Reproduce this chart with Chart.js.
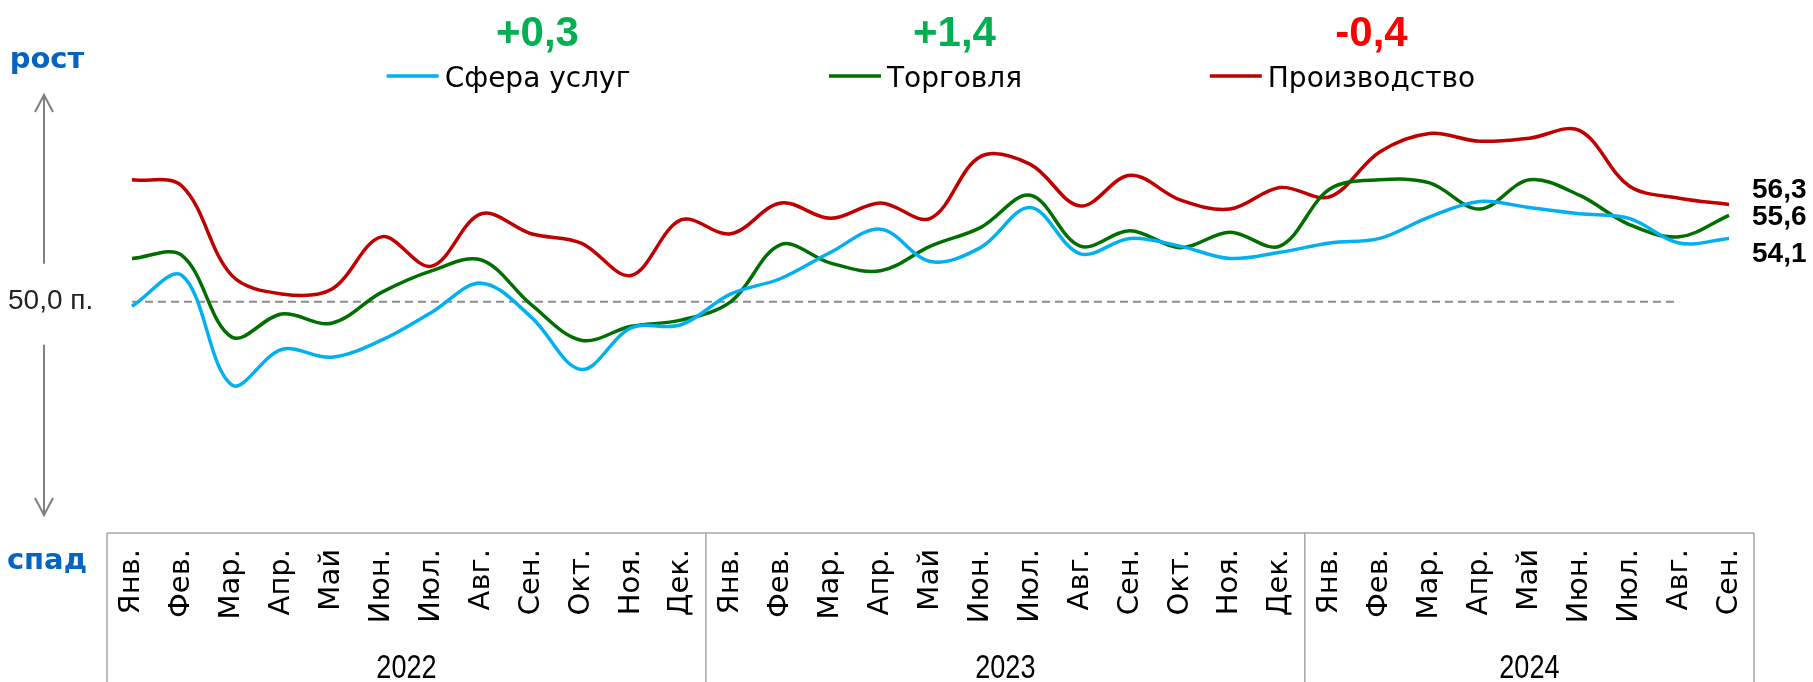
<!DOCTYPE html>
<html lang="ru">
<head>
<meta charset="utf-8">
<script src="https://cdn.jsdelivr.net/npm/chart.js@4.4.1/dist/chart.umd.min.js"></script>
<style>
    html, body { margin: 0; padding: 0; background: #fff; }
    #wrap { width: 1813px; height: 682px; position: relative; }
</style>
</head>
<body>
<div id="wrap"><canvas id="grafico"></canvas></div>
<script>
// ---------------- DATA ----------------
const months = [
    "Янв.", "Фев.", "Мар.", "Апр.", "Май", "Июн.", "Июл.", "Авг.", "Сен.", "Окт.", "Ноя.", "Дек.",
    "Янв.", "Фев.", "Мар.", "Апр.", "Май", "Июн.", "Июл.", "Авг.", "Сен.", "Окт.", "Ноя.", "Дек.",
    "Янв.", "Фев.", "Мар.", "Апр.", "Май", "Июн.", "Июл.", "Авг.", "Сен."
];
const years = ["2022", "2023", "2024"];
const monthsPerYear = [12, 12, 9];

const seriesNames = ["Сфера услуг", "Торговля", "Производство"];
const changes = ["+0,3", "+1,4", "-0,4"];

const services = [
    49.7, 51.7, 44.6, 46.9, 46.4, 47.5, 49.3, 51.2, 49.0, 45.6, 48.3, 48.5,
    50.5, 51.5, 53.2, 54.7, 52.6, 53.5, 56.1, 53.1, 54.1, 53.6, 52.8, 53.2,
    53.8, 54.1, 55.5, 56.5, 56.1, 55.7, 55.4, 53.8, 54.1
];
const trade = [
    52.8, 53.0, 47.7, 49.2, 48.6, 50.6, 52.0, 52.7, 49.8, 47.5, 48.4, 48.8,
    50.0, 53.7, 52.5, 52.0, 53.6, 54.8, 56.9, 53.6, 54.6, 53.5, 54.5, 53.6,
    57.3, 57.9, 57.7, 56.0, 57.9, 56.9, 55.0, 54.2, 55.6
];
const manufacturing = [
    57.9, 57.5, 51.7, 50.5, 50.8, 54.2, 52.3, 55.7, 54.4, 53.8, 51.7, 55.3,
    54.4, 56.4, 55.4, 56.4, 55.4, 59.4, 58.9, 56.2, 58.2, 56.6, 56.0, 57.4,
    56.8, 59.7, 60.9, 60.4, 60.6, 61.1, 57.5, 56.7, 56.3
];
const baseline = [
    50, 50, 50, 50, 50, 50, 50, 50, 50, 50, 50, 50,
    50, 50, 50, 50, 50, 50, 50, 50, 50, 50, 50, 50,
    50, 50, 50, 50, 50, 50, 50, 50, null
];

const colors = ["#00B0F0", "#006E00", "#C00000"];
const endLabelShift = [16, 2, -14];

const TEXT_FONT = '"Century Gothic", "DejaVu Sans", sans-serif';
const NUM_FONT = '"Liberation Sans", Arial, sans-serif';

// ---------------- DECOR ----------------
const decor = {
    id: "decor",
    afterDraw(chart) {
        const ctx = chart.ctx;
        const area = chart.chartArea;
        const x = chart.scales.x;
        const y = chart.scales.y;
        ctx.save();

        // legend with changes above
        const legendCenter = (area.left + area.right) / 2 + 24;
        seriesNames.forEach((name, i) => {
            const cx = legendCenter + (i - 1) * 417;
            ctx.font = "28px " + TEXT_FONT;
            const w = ctx.measureText(name).width;
            const left = cx - w / 2;
            ctx.strokeStyle = colors[i];
            ctx.lineWidth = 3.5;
            ctx.beginPath();
            ctx.moveTo(left - 58, 76);
            ctx.lineTo(left - 6, 76);
            ctx.stroke();
            ctx.fillStyle = "#000";
            ctx.textAlign = "left";
            ctx.textBaseline = "alphabetic";
            ctx.fillText(name, left, 87);

            ctx.font = "bold 42px " + NUM_FONT;
            ctx.textAlign = "center";
            ctx.fillStyle = changes[i].startsWith("-") ? "#FF0000" : "#00B050";
            ctx.fillText(changes[i], cx, 46);
        });

        // end values
        const last = months.length - 1;
        [services, trade, manufacturing].forEach((serie, i) => {
            const v = serie[last];
            ctx.font = "bold 28px " + NUM_FONT;
            ctx.fillStyle = "#000";
            ctx.textAlign = "left";
            ctx.textBaseline = "middle";
            ctx.fillText(v.toFixed(1).replace(".", ","), x.getPixelForValue(last) + 23,
                y.getPixelForValue(v) + endLabelShift[i]);
        });

        // left side: arrows and labels
        const y50 = y.getPixelForValue(50);
        ctx.strokeStyle = "#808080";
        ctx.lineWidth = 2;
        ctx.beginPath();
        ctx.moveTo(44, y50 - 38); ctx.lineTo(44, 95);
        ctx.moveTo(35, 112); ctx.lineTo(44, 95); ctx.lineTo(53, 112);
        ctx.moveTo(44, y50 + 43); ctx.lineTo(44, 515);
        ctx.moveTo(35, 498); ctx.lineTo(44, 515); ctx.lineTo(53, 498);
        ctx.stroke();

        ctx.fillStyle = "#222";
        ctx.font = "28px " + NUM_FONT;
        ctx.textAlign = "left";
        ctx.textBaseline = "middle";
        ctx.fillText("50,0 п.", 8, y50);

        ctx.fillStyle = "#0563C1";
        ctx.font = "bold 29px " + TEXT_FONT;
        ctx.textAlign = "center";
        ctx.textBaseline = "alphabetic";
        ctx.fillText("рост", 47, 68);
        ctx.fillText("спад", 47, 569);

        // category box
        const edges = [area.left];
        let n = 0;
        monthsPerYear.forEach(count => {
            n += count;
            edges.push(n < months.length
                ? (x.getPixelForValue(n - 1) + x.getPixelForValue(n)) / 2
                : area.right);
        });
        ctx.strokeStyle = "#A6A6A6";
        ctx.lineWidth = 1.5;
        ctx.beginPath();
        ctx.moveTo(area.left, area.bottom); ctx.lineTo(area.right, area.bottom);
        edges.forEach(e => { ctx.moveTo(e, area.bottom); ctx.lineTo(e, chart.height); });
        ctx.stroke();

        ctx.fillStyle = "#000";
        ctx.font = "29px " + TEXT_FONT;
        ctx.textAlign = "right";
        ctx.textBaseline = "middle";
        months.forEach((m, i) => {
            ctx.save();
            ctx.translate(x.getPixelForValue(i), area.bottom + 16);
            ctx.rotate(-Math.PI / 2);
            ctx.fillText(m, 0, 0);
            ctx.restore();
        });

        // narrow-looking year labels
        ctx.font = '33px "Liberation Sans", sans-serif';
        ctx.textAlign = "center";
        ctx.textBaseline = "alphabetic";
        years.forEach((yr, i) => {
            ctx.save();
            ctx.translate((edges[i] + edges[i + 1]) / 2, 678);
            ctx.scale(0.82, 1);
            ctx.fillText(yr, 0, 0);
            ctx.restore();
        });

        ctx.restore();
    }
};

// ---------------- CHART ----------------
function line(data, color) {
    return {
        data: data,
        borderColor: color,
        borderWidth: 3.5,
        pointRadius: 0,
        tension: 0.35,
        fill: false
    };
}

new Chart(document.getElementById("grafico"), {
    type: "line",
    data: {
        labels: months,
        datasets: [
            { label: seriesNames[0], ...line(services, colors[0]) },
            { label: seriesNames[1], ...line(trade, colors[1]) },
            { label: seriesNames[2], ...line(manufacturing, colors[2]) },
            {
                label: "50",
                data: baseline,
                borderColor: "#8C8C8C",
                borderWidth: 2,
                borderDash: [8, 5],
                pointRadius: 0,
                tension: 0,
                spanGaps: false
            }
        ]
    },
    options: {
        responsive: true,
        maintainAspectRatio: false,
        animation: false,
        layout: { padding: { top: 78, bottom: 149, left: 107, right: 59 } },
        plugins: { legend: { display: false }, tooltip: { enabled: false } },
        scales: {
            x: { display: false, offset: true },
            y: { display: false, min: 35, max: 64.5 }
        }
    },
    plugins: [decor]
});
</script>
</body>
</html>
